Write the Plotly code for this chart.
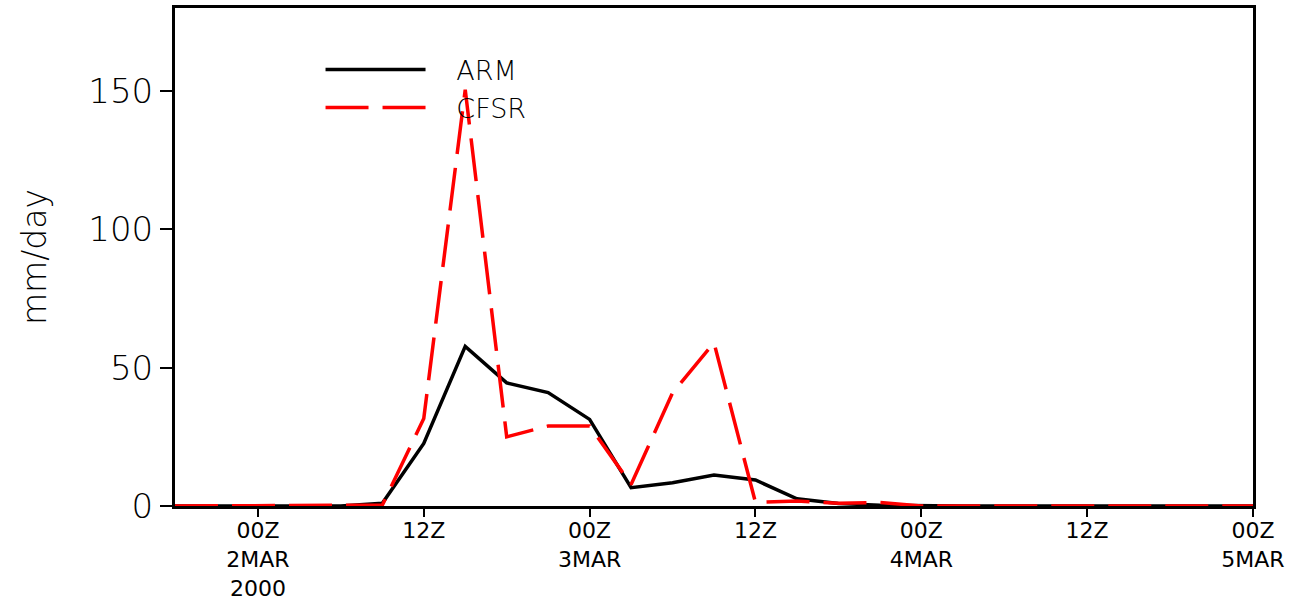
import pandas as pd
import plotly.graph_objects as go

# 3-hourly times from 18Z 1 Mar 2000 to 00Z 5 Mar 2000
times = pd.date_range("2000-03-01 18:00", "2000-03-05 00:00", freq="3h")

arm = [0, 0,
       0, 0, 0, 1.0, 22.6, 57.7, 44.5, 41.0,
       31.3, 6.6, 8.4, 11.2, 9.4, 2.6, 0.9, 0.3,
       0, 0, 0, 0, 0, 0, 0, 0,
       0]
cfsr = [0, 0,
        0, 0, 0, 0.3, 31.6, 150.5, 25.0, 28.9,
        28.9, 7.8, 40.9, 59.0, 1.3, 1.8, 1.0, 1.3,
        0, 0, 0, 0, 0, 0, 0, 0,
        0]

tick_vals = pd.to_datetime(["2000-03-02 00:00", "2000-03-02 12:00", "2000-03-03 00:00",
                            "2000-03-03 12:00", "2000-03-04 00:00", "2000-03-04 12:00",
                            "2000-03-05 00:00"])
tick_text = ["00Z<br>2MAR<br>2000", "12Z", "00Z<br>3MAR", "12Z", "00Z<br>4MAR", "12Z", "00Z<br>5MAR"]
y_ticks = [0, 50, 100, 150]

pad = "\u00a0\u00a0\u00a0"

fig = go.Figure()
fig.add_trace(go.Scatter(x=times, y=arm, mode="lines", name=pad + "ARM",
                         line=dict(color="black", width=3.5)))
fig.add_trace(go.Scatter(x=times, y=cfsr, mode="lines", name=pad + "CFSR",
                         line=dict(color="#ff0000", width=3.5, dash="43px,14px")))

fig.update_layout(
    width=1297, height=606,
    margin=dict(l=175, r=44, t=8, b=100),
    plot_bgcolor="white", paper_bgcolor="white",
    font=dict(family="DejaVu Sans", color="black"),
    legend=dict(x=0.135, y=0.925, xanchor="left", yanchor="top",
                bgcolor="rgba(0,0,0,0)", itemwidth=100,
                font=dict(size=27, family="DejaVu Sans", weight=200),
                tracegroupgap=0),
    xaxis=dict(range=[times[0], times[-1]], tickmode="array",
               tickvals=tick_vals, ticktext=tick_text,
               ticks="outside", ticklen=8, tickwidth=2, tickcolor="black",
               ticklabelstandoff=-5,
               showline=True, linecolor="black", linewidth=3, mirror=True,
               showgrid=False, zeroline=False, automargin=False,
               tickfont=dict(size=22, family="DejaVu Sans"),
               tickangle=0),
    yaxis=dict(range=[0, 180], tickmode="array", tickvals=y_ticks,
               ticks="outside", ticklen=12, tickwidth=2, tickcolor="black",
               showline=True, linecolor="black", linewidth=3, mirror=True,
               showgrid=False, zeroline=False, automargin=False,
               tickfont=dict(size=34, family="DejaVu Sans", weight=200),
               title=dict(text="mm/day", font=dict(size=33, family="DejaVu Sans", weight=200),
                          standoff=32)),
)

fig.write_html("out.html", config={"displayModeBar": False},
               post_script="document.body.style.margin='0';")
